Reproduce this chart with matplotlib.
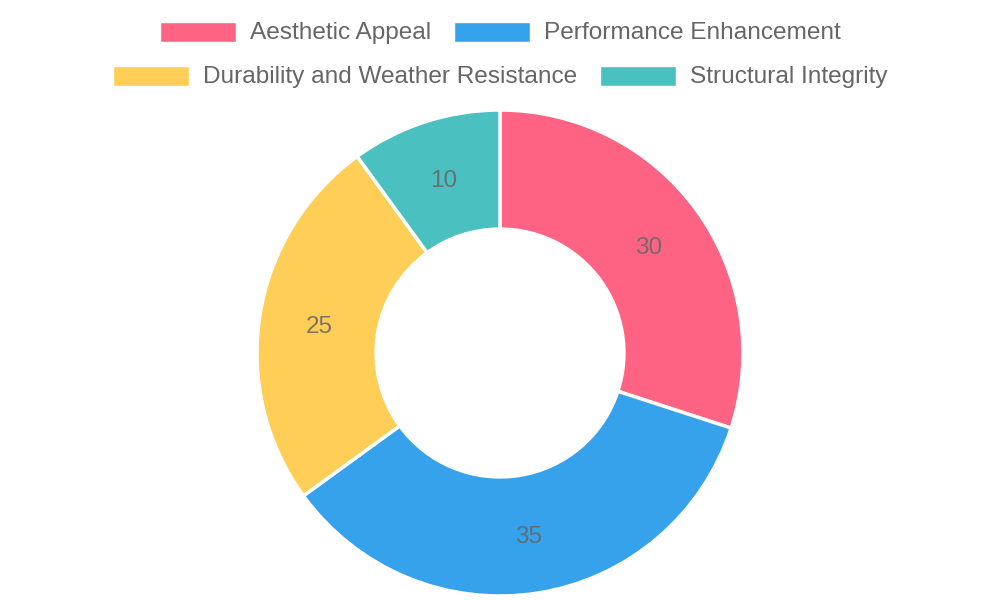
import matplotlib.pyplot as plt
import numpy as np
from matplotlib.patches import Rectangle

categories = [
    "Aesthetic Appeal",
    "Performance Enhancement",
    "Durability and Weather Resistance",
    "Structural Integrity",
]
values = [30, 35, 25, 10]
colors = ["#FF6384", "#36A2EB", "#FFCE56", "#4BC0C0"]

plt.rcParams["font.family"] = ["Liberation Sans", "DejaVu Sans"]

W, H = 1000, 600
fig = plt.figure(figsize=(W / 100, H / 100), dpi=100)

# doughnut: centre (500, 353) px, outer radius 243 px
cx, cy, r = 500, 353, 243
ax = fig.add_axes([(cx - r) / W, (H - cy - r) / H, 2 * r / W, 2 * r / H])
wedges, texts = ax.pie(
    values,
    colors=colors,
    startangle=90,
    counterclock=False,
    radius=1.0,
    wedgeprops=dict(width=0.49, edgecolor="white", linewidth=2.5),
)
ax.set_xlim(-1, 1)
ax.set_ylim(-1, 1)
ax.set_aspect("equal")
ax.axis("off")

mid_r = 1.0 - 0.49 / 2
for w, v in zip(wedges, values):
    ang = np.deg2rad((w.theta1 + w.theta2) / 2)
    ax.text(mid_r * np.cos(ang), mid_r * np.sin(ang), str(v),
            ha="center", va="center_baseline", fontsize=17.5,
            color="#666666", alpha=0.85)

# legend, two centred rows like the original
rows = [[0, 1], [2, 3]]
row_base = [39, 83]  # text baselines, px from top
box_w, box_h, gap_txt, gap_item = 76, 20, 14, 23
fs = 17.6
renderer = fig.canvas.get_renderer()
for row, yb in zip(rows, row_base):
    widths = []
    for i in row:
        t = fig.text(0, 0, categories[i], fontsize=fs)
        widths.append(t.get_window_extent(renderer).width)
        t.remove()
    total = sum(box_w + gap_txt + tw for tw in widths) + gap_item * (len(row) - 1)
    x = (W - total) / 2
    box_top = yb - 17
    for i, tw in zip(row, widths):
        fig.patches.append(Rectangle((x / W, (H - box_top - box_h) / H), box_w / W, box_h / H,
                                     transform=fig.transFigure, facecolor=colors[i],
                                     edgecolor="white", linewidth=1))
        fig.text((x + box_w + gap_txt) / W, (H - yb) / H, categories[i], fontsize=fs,
                 color="#666666", ha="left", va="baseline")
        x += box_w + gap_txt + tw + gap_item

fig.savefig("out.png", dpi=100)
